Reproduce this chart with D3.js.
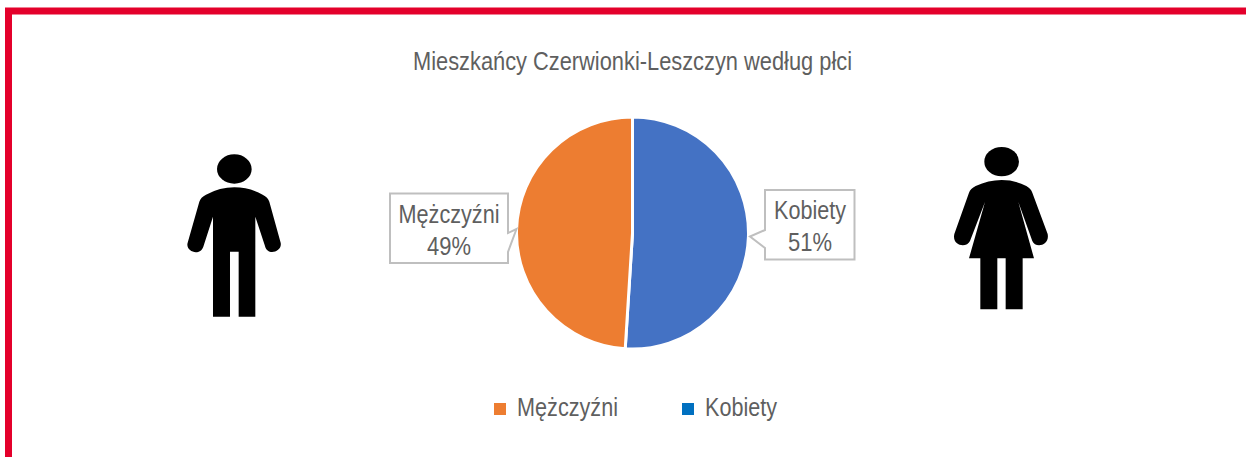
<!DOCTYPE html>
<html><head><meta charset="utf-8">
<script src="https://cdn.jsdelivr.net/npm/d3@7"></script>
<style>html,body{margin:0;padding:0;background:#fff;overflow:hidden}svg{display:block}text{font-family:"Liberation Sans",Arial,sans-serif;fill:#5f5f5f}</style>
</head><body><svg id="c" width="1246" height="457"></svg>
<script>
const titleText = "Mieszkańcy Czerwionki-Leszczyn według płci";
const categories = ["Kobiety", "Mężczyźni"];
const values = [51, 49];
const sliceColors = ["#4472C4", "#ED7D31"];
const legendOrder = ["Mężczyźni", "Kobiety"];
const legendColors = ["#ED7D31", "#0070C0"];

const W = 1246, H = 457;
const FS = 25;
const svg = d3.select("#c");
svg.append("path").attr("d", `M${W+5},11 H8.5 V${H+5}`).attr("fill","none").attr("stroke","#E4002B").attr("stroke-width",7);

svg.append("text").attr("x",632.5).attr("y",70).attr("text-anchor","middle")
  .attr("font-size",FS).attr("textLength",439).attr("lengthAdjust","spacingAndGlyphs").text(titleText);

const cx = 632.5, cy = 233, R = 116;
const pie = d3.pie().sort(null).value(d => d);
const arc = d3.arc().innerRadius(0).outerRadius(R);
const color = d3.scaleOrdinal(categories, sliceColors);
const arcs = pie(values);
svg.append("g").attr("transform",`translate(${cx},${cy})`).selectAll("path").data(arcs).join("path")
  .attr("d",arc).attr("fill",(d,i)=>color(categories[i])).attr("stroke","#fff").attr("stroke-width",3);

// callouts
const callouts = [
 {i:0, d:"M765,190 H854.5 V259.5 H765 V248 L750,236.5 L765,230 Z", x:810, w:72},
 {i:1, d:"M390,193.5 H508 V233 L516.5,229 L508,252 V263 H390 Z", x:449, w:101}
];
callouts.forEach(c=>{
  svg.append("path").attr("d",c.d).attr("fill","#fff").attr("stroke","#BFBFBF").attr("stroke-width",2);
  const y0 = c.i===0 ? 219 : 223;
  svg.append("text").attr("x",c.x).attr("y",y0).attr("text-anchor","middle").attr("font-size",FS)
    .attr("textLength",c.w).attr("lengthAdjust","spacingAndGlyphs").text(categories[c.i]);
  svg.append("text").attr("x",c.x).attr("y",y0+32).attr("text-anchor","middle").attr("font-size",FS)
    .attr("textLength",44).attr("lengthAdjust","spacingAndGlyphs").text(values[c.i]+"%");
});

// legend
const lx = [494, 682], tx = [517, 705], tw = [101, 72];
legendOrder.forEach((n,i)=>{
  svg.append("rect").attr("x",lx[i]).attr("y",403).attr("width",12).attr("height",12).attr("fill",legendColors[i]);
  svg.append("text").attr("x",tx[i]).attr("y",416).attr("font-size",FS)
    .attr("textLength",tw[i]).attr("lengthAdjust","spacingAndGlyphs").text(n);
});

// pictograms (traced in zoom space, 3x)
const man = svg.append("g").attr("transform","translate(170,140) scale(0.3333)");
man.append("ellipse").attr("cx",193).attr("cy",87).attr("rx",52).attr("ry",44);
man.append("path").attr("d","M88,185 Q92,172 108,164 Q150,142 193,142 Q238,142 278,164 Q294,172 298,185 L332,308 C338,335 292,350 285,318 L256,230 V530 H206 V335 H180 V530 H129 V230 L100,320 C90,350 45,335 53,308 Z");
const woman = svg.append("g").attr("transform","translate(935,140) scale(0.3333)");
woman.append("ellipse").attr("cx",200).attr("cy",65).attr("rx",52).attr("ry",44);
woman.append("path").attr("d","M102,158 Q106,146 122,138 Q160,120 200,120 Q240,120 274,138 Q288,146 292,158 L338,282 C345,318 300,325 292,303 L250,186 L297,355 H263 V508 H212 V355 H187 V508 H136 V355 H102 L150,186 L105,303 C95,325 50,318 58,282 Z");
</script></body></html>
